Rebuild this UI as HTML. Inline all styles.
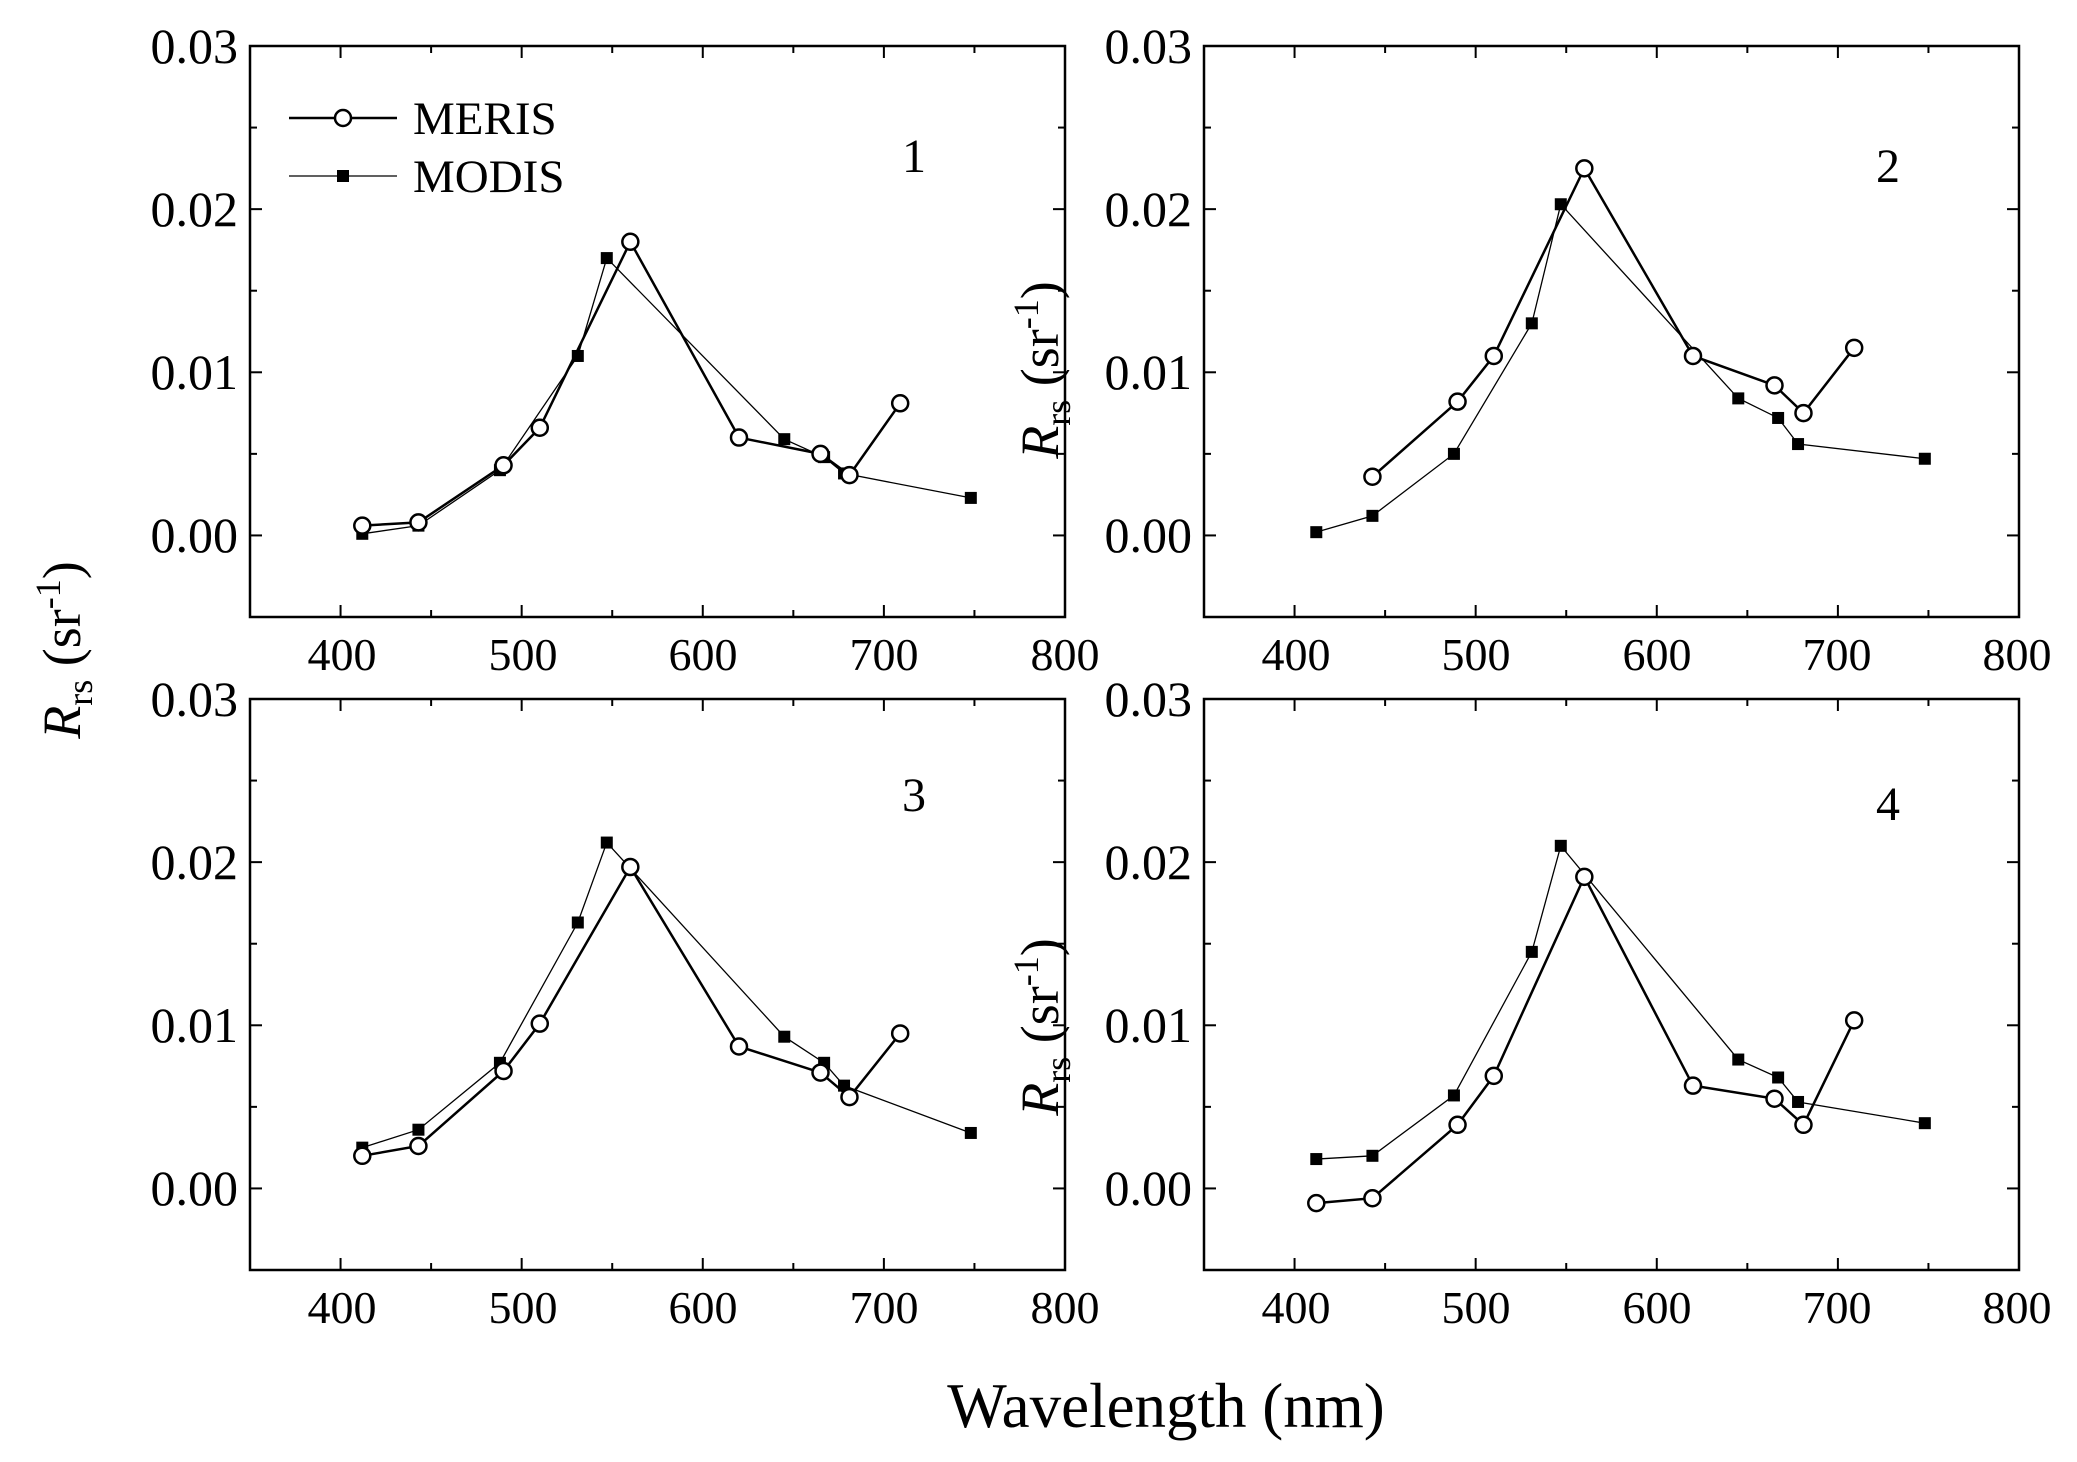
<!DOCTYPE html>
<html><head><meta charset="utf-8"><style>
html,body{margin:0;padding:0;background:#fff}
svg{display:block}
text{font-family:"Liberation Serif",serif;fill:#000}
</style></head><body>
<svg id="s" width="2077" height="1462" viewBox="0 0 2077 1462" xmlns="http://www.w3.org/2000/svg">
<rect width="2077" height="1462" fill="#fff"/>
<g id="plots"></g>
<g font-size="50" text-anchor="end">
<text x="238" y="63">0.03</text><text x="238" y="226">0.02</text><text x="238" y="389">0.01</text><text x="238" y="552">0.00</text>
<text x="1192" y="63">0.03</text><text x="1192" y="226">0.02</text><text x="1192" y="389">0.01</text><text x="1192" y="552">0.00</text>
<text x="238" y="716">0.03</text><text x="238" y="879">0.02</text><text x="238" y="1042">0.01</text><text x="238" y="1205">0.00</text>
<text x="1192" y="716">0.03</text><text x="1192" y="879">0.02</text><text x="1192" y="1042">0.01</text><text x="1192" y="1205">0.00</text>
</g>
<g font-size="46" text-anchor="middle">
<text x="342" y="670">400</text><text x="523" y="670">500</text><text x="703" y="670">600</text><text x="884" y="670">700</text><text x="1065" y="670">800</text>
<text x="1296" y="670">400</text><text x="1476" y="670">500</text><text x="1657" y="670">600</text><text x="1837" y="670">700</text><text x="2017" y="670">800</text>
<text x="342" y="1323">400</text><text x="523" y="1323">500</text><text x="703" y="1323">600</text><text x="884" y="1323">700</text><text x="1065" y="1323">800</text>
<text x="1296" y="1323">400</text><text x="1476" y="1323">500</text><text x="1657" y="1323">600</text><text x="1837" y="1323">700</text><text x="2017" y="1323">800</text>
</g>
<g font-size="48">
<text x="914" y="172" text-anchor="middle">1</text>
<text x="1888" y="182" text-anchor="middle">2</text>
<text x="914" y="811" text-anchor="middle">3</text>
<text x="1888" y="820" text-anchor="middle">4</text>
</g>
<g font-size="47">
<text x="413" y="134">MERIS</text>
<text x="413" y="192">MODIS</text>
</g>
<line x1="289" y1="118" x2="397" y2="118" stroke="#000" stroke-width="2.5"/>
<circle cx="343" cy="118" r="8" fill="#fff" stroke="#000" stroke-width="2.5"/>
<line x1="289" y1="176" x2="397" y2="176" stroke="#000" stroke-width="1.3"/>
<rect x="337" y="170" width="12" height="12" fill="#000"/>
<g font-size="54">
<text transform="translate(80,650) rotate(-90)" text-anchor="middle"><tspan font-style="italic">R</tspan><tspan font-size="36" dy="12">rs</tspan><tspan dy="-12"> (sr</tspan><tspan font-size="36" dy="-20">-1</tspan><tspan dy="20">)</tspan></text>
<text transform="translate(1058,370) rotate(-90)" text-anchor="middle"><tspan font-style="italic">R</tspan><tspan font-size="36" dy="12">rs</tspan><tspan dy="-12"> (sr</tspan><tspan font-size="36" dy="-20">-1</tspan><tspan dy="20">)</tspan></text>
<text transform="translate(1058,1027) rotate(-90)" text-anchor="middle"><tspan font-style="italic">R</tspan><tspan font-size="36" dy="12">rs</tspan><tspan dy="-12"> (sr</tspan><tspan font-size="36" dy="-20">-1</tspan><tspan dy="20">)</tspan></text>
</g>
<text x="1166" y="1427" font-size="63" text-anchor="middle">Wavelength (nm)</text>
</svg>
<script>
var NS="http://www.w3.org/2000/svg",G=document.getElementById("plots");
function el(t,a){var e=document.createElementNS(NS,t);for(var k in a)e.setAttribute(k,a[k]);G.appendChild(e);return e;}
var W=815,H=571;
var mw=[412,443,490,510,560,620,665,681,709],dw=[412,443,488,531,547,645,667,678,748];
var P=[
{x:250,y:46,me:[.0006,.0008,.0043,.0066,.018,.006,.005,.0037,.0081],mo:[.0001,.0006,.004,.011,.017,.0059,.0048,.0038,.0023]},
{x:1204,y:46,me:[null,.0036,.0082,.011,.0225,.011,.0092,.0075,.0115],mo:[.0002,.0012,.005,.013,.0203,.0084,.0072,.0056,.0047]},
{x:250,y:699,me:[.002,.0026,.0072,.0101,.0197,.0087,.0071,.0056,.0095],mo:[.0025,.0036,.0077,.0163,.0212,.0093,.0077,.0063,.0034]},
{x:1204,y:699,me:[-.0009,-.0006,.0039,.0069,.0191,.0063,.0055,.0039,.0103],mo:[.0018,.002,.0057,.0145,.021,.0079,.0068,.0053,.004]}];
P.forEach(function(p){
 function X(w){return p.x+(w-350)/450*W;}
 function Y(v){return p.y+(0.03-v)/0.035*H;}
 el("rect",{x:p.x,y:p.y,width:W,height:H,fill:"none",stroke:"#000","stroke-width":2.5});
 for(var w=400;w<=800;w+=50){var L=(w%100==0)?12:7,x=X(w);
  el("line",{x1:x,y1:p.y+H,x2:x,y2:p.y+H-L,stroke:"#000","stroke-width":2});
  el("line",{x1:x,y1:p.y,x2:x,y2:p.y+L,stroke:"#000","stroke-width":2});}
 for(var i=0;i<=6;i++){var v=-0.005+i*0.005,y=Y(v),L=(i%2==1)?12:7;
  el("line",{x1:p.x,y1:y,x2:p.x+L,y2:y,stroke:"#000","stroke-width":2});
  el("line",{x1:p.x+W,y1:y,x2:p.x+W-L,y2:y,stroke:"#000","stroke-width":2});}
 var pts=[];dw.forEach(function(w,i){pts.push(X(w)+","+Y(p.mo[i]));});
 el("polyline",{points:pts.join(" "),fill:"none",stroke:"#000","stroke-width":1.3});
 pts=[];mw.forEach(function(w,i){if(p.me[i]!==null)pts.push(X(w)+","+Y(p.me[i]));});
 el("polyline",{points:pts.join(" "),fill:"none",stroke:"#000","stroke-width":2.5});
 dw.forEach(function(w,i){el("rect",{x:X(w)-6,y:Y(p.mo[i])-6,width:12,height:12,fill:"#000"});});
 mw.forEach(function(w,i){if(p.me[i]!==null)el("circle",{cx:X(w),cy:Y(p.me[i]),r:8,fill:"#fff",stroke:"#000","stroke-width":2.5});});
});
</script>
</body></html>
